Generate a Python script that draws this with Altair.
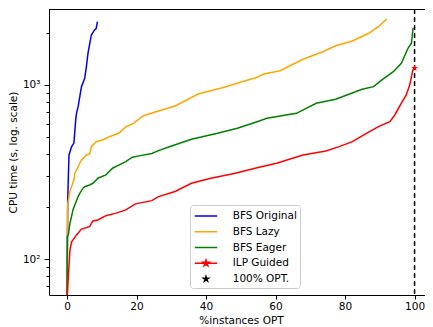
import altair as alt
import pandas as pd
import numpy as np

series_names = ["BFS Original", "BFS Lazy", "BFS Eager", "ILP Guided", "100% OPT."]
series_colors = ["#0000ff", "#ffa500", "#008000", "#ff0000", "#000000"]

orig_x = [0, 0.2, 0.57, 1.33, 1.98, 2.55, 2.75, 3.2, 3.68, 4.16, 5.1, 5.58, 6.03, 7.0, 7.93, 8.41, 8.75]
orig_y = [55, 219, 397, 443, 464, 644, 690, 751, 857, 978, 1093, 1273, 1520, 1936, 2069, 2114, 2307]

lazy_x = [0, 0.2, 0.85, 1.33, 1.98, 2.27, 2.75, 3.68, 4.16, 5.58, 6.52, 7.0, 8.41, 10.28, 12.18, 15.0,
          16.9, 18.8, 21.6, 22.6, 23.5, 31.1, 37.7, 45.2, 49.0, 54.7, 56.6, 61.3, 67.9, 73.6, 77.3,
          82.1, 86.8, 89.6, 92.0]
lazy_y = [55, 209, 245, 262, 285, 313, 325, 357, 372, 397, 402, 443, 473, 484, 505, 530,
          575, 597, 658, 673, 682, 758, 888, 970, 1023, 1107, 1157, 1208, 1404, 1552, 1680,
          1788, 1981, 2160, 2392]

eager_x = [0, 0.1, 0.37, 0.85, 1.78, 3.2, 3.68, 4.6, 5.1, 6.5, 7.45, 8.4, 8.87, 11.2, 13.1, 15.0,
           16.9, 18.8, 20.7, 24.4, 26.3, 30.1, 35.8, 43.3, 49.0, 54.7, 57.5, 66.0, 71.7, 77.3,
           84.9, 88.2, 90.6, 93.9, 96.2, 98.1, 99.1, 99.4, 99.6]
eager_y = [55, 135, 138, 161, 194, 229, 239, 256, 261, 267, 273, 285, 292, 305, 333, 348,
           363, 385, 392, 405, 420, 447, 488, 528, 565, 616, 644, 688, 786, 829,
           945, 978, 1069, 1192, 1331, 1624, 1735, 1981, 2124]

ilp_x = [0, 0.1, 0.37, 0.85, 1.33, 2.75, 4.16, 6.5, 7.45, 8.87, 11.2, 14.1, 16.9, 19.7, 24.4, 26.3,
         31.1, 35.8, 41.4, 48.1, 54.7, 60.3, 67.9, 74.5, 78.3, 82.1, 85.4, 89.6, 92.9, 94.3, 96.2,
         97.6, 98.6, 99.5, 100]
ilp_y = [55, 62, 79, 113, 126, 138, 149, 154, 166, 168, 178, 184, 192, 208, 217, 229,
         245, 273, 292, 311, 335, 356, 397, 418, 443, 473, 517, 577, 616, 673, 786,
         877, 1000, 1219, 1250]

star_x = [100]
star_y = [1250]
opt_line_x = [100]

x_ticks = [0, 20, 40, 60, 80, 100]
y_ticks = [60, 70, 80, 90, 100, 200, 300, 400, 500, 600, 700, 800, 900, 1000, 2000]

rows = []
for name, xs, ys in [("BFS Original", orig_x, orig_y), ("BFS Lazy", lazy_x, lazy_y),
                     ("BFS Eager", eager_x, eager_y), ("ILP Guided", ilp_x, ilp_y)]:
    for i, (a, b) in enumerate(zip(xs, ys)):
        rows.append({"series": name, "x": a, "y": b, "i": i})
lines_df = pd.DataFrame(rows)


def star_path(scale):
    pts = []
    for k in range(10):
        ang = np.deg2rad(-90 + 36 * k)
        rad = scale if k % 2 == 0 else scale * 0.382
        pts.append((rad * np.cos(ang), rad * np.sin(ang)))
    return "M" + "L".join(f"{px:.3f},{py:.3f}" for px, py in pts) + "Z"


line_sym = "M-1.6,0L1.6,0"
legend_shapes = [line_sym, line_sym, line_sym, line_sym + star_path(0.46), star_path(0.36)]

W, H = 376, 286
FONT = "DejaVu Sans"
FS = 10.5

x_enc = alt.X("x:Q", title="%instances OPT",
              scale=alt.Scale(domain=[-5.18, 103.0], nice=False, zero=False),
              axis=alt.Axis(values=x_ticks, format="d", grid=False, tickSize=4, labelPadding=2,
                            domainColor="black", tickColor="black", labelColor="black",
                            labelFont=FONT, labelFontSize=FS, titleFont=FONT, titleFontSize=FS,
                            titleFontWeight="normal", titleColor="black", titlePadding=4,
                            titleX=192, labelFlush=False))
y_enc = alt.Y("y:Q", title="CPU time (s, log. scale)",
              scale=alt.Scale(type="log", domain=[62.4, 2729], nice=False),
              axis=alt.Axis(values=y_ticks,
                            labelExpr="datum.value == 100 ? '10²' : (datum.value == 1000 ? '10³' : '')",
                            tickSize={"condition": {"test": "datum.value == 100 || datum.value == 1000",
                                                    "value": 5}, "value": 3},
                            grid=False, labelPadding=4, labelOverlap=False,
                            domainColor="black", tickColor="black", labelColor="black",
                            labelFont=FONT, labelFontSize=FS, titleFont=FONT, titleFontSize=FS,
                            titleFontWeight="normal", titleColor="black",
                            titleX=-35.5, titleBaseline="middle"))

lines = alt.Chart(lines_df).mark_line(strokeWidth=1.5, clip=True).encode(
    x=x_enc, y=y_enc,
    color=alt.Color("series:N", scale=alt.Scale(domain=series_names[:4], range=series_colors[:4]),
                    legend=None),
    order="i:Q",
)

opt_rule = alt.Chart(pd.DataFrame({"x": opt_line_x})).mark_rule(
    color="black", strokeWidth=1.5, strokeDash=[5, 3]).encode(x=x_enc)

star = alt.Chart(pd.DataFrame({"x": star_x, "y": star_y})).mark_point(
    shape=star_path(1.0), filled=True, color="#ff0000", size=55, opacity=1).encode(x=x_enc, y=y_enc)

# legend-only layer: its points lie below the visible y range and are clipped away
legend_df = pd.DataFrame({"series": series_names, "x": [50.0] * 5, "y": [10.0] * 5})
legend_cfg = alt.Legend(title=None, orient="none", legendX=141, legendY=196, padding=3,
                        symbolOffset=5, labelOffset=18.7, rowPadding=1.75, symbolSize=196,
                        symbolStrokeWidth=1.5, strokeColor="#cccccc", fillColor="#ffffff",
                        cornerRadius=3, labelFont=FONT, labelFontSize=FS, labelColor="black")
legend_layer = alt.Chart(legend_df).mark_point(filled=True, opacity=1, clip=True).encode(
    x=x_enc, y=y_enc,
    fill=alt.Fill("series:N", scale=alt.Scale(domain=series_names, range=series_colors), legend=legend_cfg),
    stroke=alt.Stroke("series:N", scale=alt.Scale(domain=series_names, range=series_colors), legend=legend_cfg),
    shape=alt.Shape("series:N", scale=alt.Scale(domain=series_names, range=legend_shapes), legend=legend_cfg),
)

top_border = alt.Chart(alt.Data(values=[{}])).mark_rule(color="black", strokeWidth=1).encode(
    x=alt.value(0), x2=alt.value(W), y=alt.value(0.5))

chart = alt.layer(lines, opt_rule, star, legend_layer, top_border).properties(
    width=W, height=H,
    autosize=alt.AutoSizeParams(type="none"),
    padding={"left": 41, "top": 1, "right": 0, "bottom": 32},
).configure_view(stroke=None).configure(background="white")

chart.save("out.html", embed_options={"renderer": "svg", "actions": False})
